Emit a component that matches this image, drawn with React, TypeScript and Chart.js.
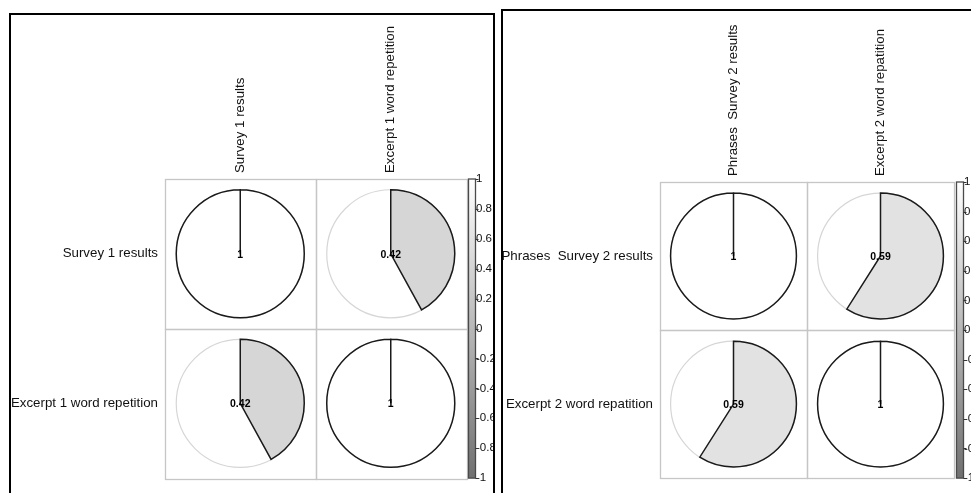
import React, { useEffect, useRef } from "react";
import { Chart, registerables } from "chart.js";

Chart.register(...registerables);

// ---------- data ----------
const LEFT_VARIABLES = ["Survey 1 results", "Excerpt 1 word repetition"];
const LEFT_CORRELATIONS = [
  [1, 0.42],
  [0.42, 1],
];
const RIGHT_VARIABLES = ["Phrases  Survey 2 results", "Excerpt 2 word repatition"];
const RIGHT_CORRELATIONS = [
  [1, 0.59],
  [0.59, 1],
];
const COLORBAR_MIN = -1;
const COLORBAR_MAX = 1;
const COLORBAR_STEP = 0.2;

// ---------- style ----------
const FONT = "'Liberation Sans', Arial, Helvetica, sans-serif";
const TEXT_COLOR = "#111111";
const LABEL_SIZE = 13.3;

function corrColor(v: number): string {
  const t = (v - COLORBAR_MIN) / (COLORBAR_MAX - COLORBAR_MIN);
  const g = Math.round(112 + t * (255 - 112));
  return `rgb(${g},${g},${g})`;
}

const corrPlugin = {
  id: "corrPlot",
  beforeDatasetsDraw(chart: any) {
    const { ctx, scales } = chart;
    const xs = scales.x;
    const ys = scales.y;
    const n = xs.getLabels().length;
    const cw = n > 1 ? xs.getPixelForValue(1) - xs.getPixelForValue(0) : xs.width;
    const ch = n > 1 ? ys.getPixelForValue(1) - ys.getPixelForValue(0) : ys.height;
    ctx.save();
    ctx.strokeStyle = "#c6c6c6";
    ctx.lineWidth = 1.3;
    for (let i = 0; i < n; i++) {
      for (let j = 0; j < n; j++) {
        const cx = xs.getPixelForValue(j);
        const cy = ys.getPixelForValue(i);
        ctx.strokeRect(
          Math.round(cx - cw / 2) + 0.5,
          Math.round(cy - ch / 2) + 0.5,
          Math.round(cw),
          Math.round(ch)
        );
      }
    }
    ctx.restore();
  },
  afterDatasetsDraw(chart: any) {
    const { ctx, scales } = chart;
    const xs = scales.x;
    const ys = scales.y;
    const n = xs.getLabels().length;
    const cw = n > 1 ? xs.getPixelForValue(1) - xs.getPixelForValue(0) : xs.width;
    const ch = n > 1 ? ys.getPixelForValue(1) - ys.getPixelForValue(0) : ys.height;
    const r = 0.428 * Math.min(Math.abs(cw), Math.abs(ch));
    const meta = chart.getDatasetMeta(0);
    const raw = chart.data.datasets[0].data;
    ctx.save();
    meta.data.forEach((el: any, k: number) => {
      const v = raw[k].v;
      const cx = el.x;
      const cy = el.y;
      // full circle outline (light)
      ctx.beginPath();
      ctx.arc(cx, cy, r, 0, Math.PI * 2);
      ctx.strokeStyle = "#d6d6d6";
      ctx.lineWidth = 1.2;
      ctx.stroke();
      // slice
      const start = -Math.PI / 2;
      const end = start + v * Math.PI * 2;
      ctx.beginPath();
      ctx.moveTo(cx, cy);
      ctx.lineTo(cx, cy - r);
      ctx.arc(cx, cy, r, start, end, v < 0);
      ctx.closePath();
      ctx.fillStyle = corrColor(v);
      ctx.fill();
      ctx.strokeStyle = "#1a1a1a";
      ctx.lineWidth = 1.5;
      ctx.stroke();
      // value text
      ctx.fillStyle = "#000";
      ctx.font = `bold 10.5px ${FONT}`;
      ctx.textAlign = "center";
      ctx.textBaseline = "middle";
      ctx.fillText(String(v), cx, cy + 1);
    });
    ctx.restore();
  },
  afterDraw(chart: any) {
    const { ctx, chartArea, scales } = chart;
    const cb = scales.yc;
    const top = cb.getPixelForValue(COLORBAR_MAX);
    const bottom = cb.getPixelForValue(COLORBAR_MIN);
    const x0 = Math.round(chartArea.right) + 2.5;
    const w = 7;
    ctx.save();
    const grad = ctx.createLinearGradient(0, top, 0, bottom);
    grad.addColorStop(0, corrColor(COLORBAR_MAX));
    grad.addColorStop(1, corrColor(COLORBAR_MIN));
    ctx.fillStyle = grad;
    ctx.fillRect(x0, top, w, bottom - top);
    ctx.strokeStyle = "#4a4a4a";
    ctx.lineWidth = 1.3;
    ctx.strokeRect(x0, top, w, bottom - top);
    ctx.beginPath();
    cb.ticks.forEach((t: any) => {
      const y = Math.round(cb.getPixelForValue(t.value)) + 0.5;
      ctx.moveTo(x0 + w, y);
      ctx.lineTo(x0 + w + 3, y);
    });
    ctx.strokeStyle = "#333333";
    ctx.lineWidth = 1;
    ctx.stroke();
    ctx.restore();
  },
};

type Area = { left: number; top: number; right: number; bottom: number };

function CorrPanel(props: {
  variables: string[];
  correlations: number[][];
  canvasWidth: number;
  canvasHeight: number;
  area: Area;
  box: React.CSSProperties;
}) {
  const { variables, correlations, canvasWidth, canvasHeight, area, box } = props;
  const ref = useRef<HTMLCanvasElement | null>(null);

  useEffect(() => {
    if (!ref.current) return;
    const points: any[] = [];
    variables.forEach((rowName, i) =>
      variables.forEach((colName, j) =>
        points.push({ x: colName, y: rowName, v: correlations[i][j] })
      )
    );
    const chart = new Chart(ref.current, {
      type: "scatter",
      data: {
        datasets: [
          { data: points, pointRadius: 0, pointHoverRadius: 0, borderWidth: 0 } as any,
        ],
      },
      options: {
        animation: false,
        responsive: false,
        events: [],
        layout: {
          padding: { left: 0, top: 0, right: 0, bottom: canvasHeight - area.bottom },
        },
        plugins: {
          legend: { display: false },
          tooltip: { enabled: false },
        },
        scales: {
          x: {
            type: "category",
            labels: variables,
            position: "top",
            offset: true,
            grid: { display: false, drawTicks: false },
            border: { display: false },
            ticks: {
              minRotation: 90,
              maxRotation: 90,
              autoSkip: false,
              padding: 6,
              labelOffset: LABEL_SIZE * 1.2,
              color: TEXT_COLOR,
              font: { family: FONT, size: LABEL_SIZE },
            },
            afterFit: (s: any) => {
              s.height = area.top;
            },
          },
          y: {
            type: "category",
            labels: variables,
            position: "left",
            offset: true,
            grid: { display: false, drawTicks: false },
            border: { display: false },
            ticks: {
              autoSkip: false,
              padding: 7,
              color: TEXT_COLOR,
              font: { family: FONT, size: LABEL_SIZE },
            },
            afterFit: (s: any) => {
              s.width = area.left;
            },
          },
          yc: {
            type: "linear",
            position: "right",
            min: COLORBAR_MIN,
            max: COLORBAR_MAX,
            grid: { display: false, drawTicks: false },
            border: { display: false },
            ticks: {
              stepSize: COLORBAR_STEP,
              padding: 10,
              color: TEXT_COLOR,
              font: { family: FONT, size: 11.5 },
              callback: (v: any) => String(Math.round(Number(v) * 10) / 10),
            },
            afterFit: (s: any) => {
              s.width = canvasWidth - area.right;
            },
          },
        } as any,
      },
      plugins: [corrPlugin],
    });
    return () => chart.destroy();
  }, []);

  return (
    <div
      style={{
        position: "absolute",
        border: "2px solid #000",
        overflow: "hidden",
        background: "#fff",
        ...box,
      }}
    >
      <canvas
        ref={ref}
        width={canvasWidth}
        height={canvasHeight}
        style={{ display: "block", width: canvasWidth, height: canvasHeight }}
      />
    </div>
  );
}

export default function App() {
  return (
    <div
      style={{
        position: "fixed",
        left: 0,
        top: 0,
        width: 971,
        height: 493,
        overflow: "hidden",
        background: "#fff",
      }}
    >
      <CorrPanel
        variables={LEFT_VARIABLES}
        correlations={LEFT_CORRELATIONS}
        canvasWidth={482}
        canvasHeight={480}
        area={{ left: 154, top: 164, right: 455, bottom: 464 }}
        box={{ left: 9, top: 13, width: 482, height: 480 }}
      />
      <CorrPanel
        variables={RIGHT_VARIABLES}
        correlations={RIGHT_CORRELATIONS}
        canvasWidth={468}
        canvasHeight={484}
        area={{ left: 157, top: 171, right: 451, bottom: 471 }}
        box={{ left: 501, top: 9, width: 468, height: 484 }}
      />
    </div>
  );
}
